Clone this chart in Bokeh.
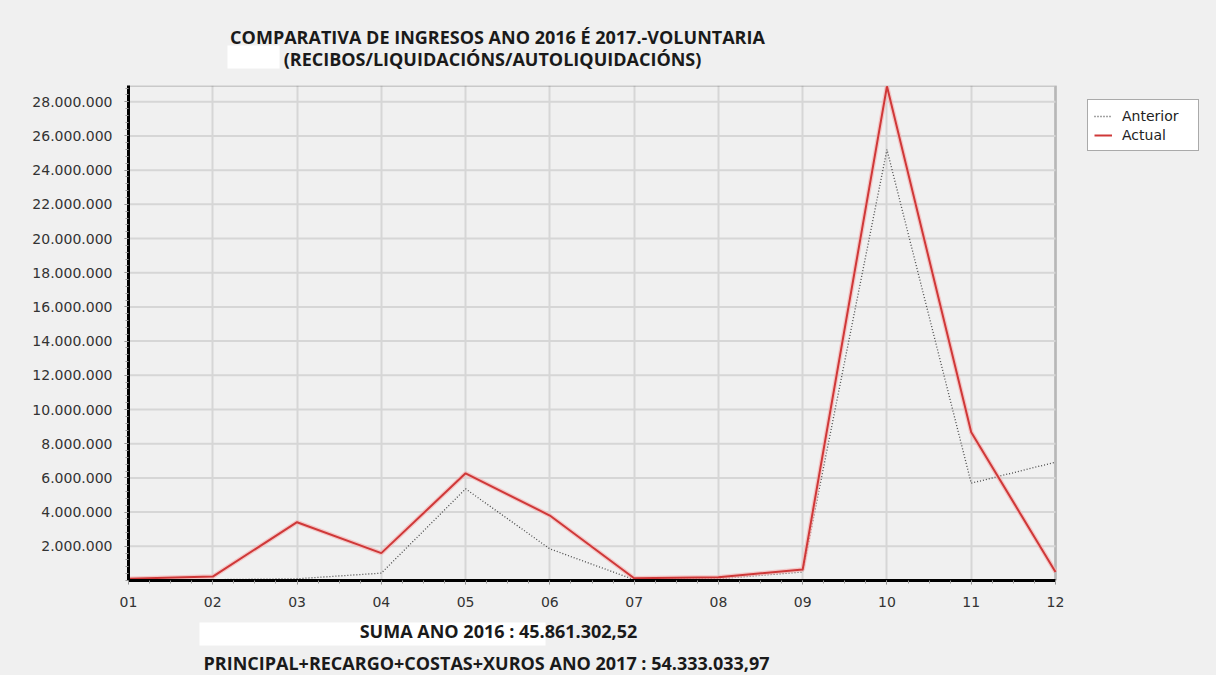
import numpy as np
from bokeh.plotting import figure
from bokeh.layouts import column
from bokeh.models import (Range1d, FixedTicker, Legend, LegendItem, Label, BoxAnnotation)
from bokeh.embed import file_html
from bokeh.resources import INLINE

# ---- data ----
months = ["01", "02", "03", "04", "05", "06", "07", "08", "09", "10", "11", "12"]
anterior = [20000, 50000, 100000, 430000, 5360000, 1850000, 50000, 100000, 500000, 25200000, 5690000, 6920000]
actual = [100000, 230000, 3410000, 1600000, 6270000, 3800000, 130000, 190000, 640000, 28900000, 8670000, 500000]
y_ticks = [2e6, 4e6, 6e6, 8e6, 10e6, 12e6, 14e6, 16e6, 18e6, 20e6, 22e6, 24e6, 26e6, 28e6]
y_tick_labels = ["2.000.000", "4.000.000", "6.000.000", "8.000.000", "10.000.000", "12.000.000",
                 "14.000.000", "16.000.000", "18.000.000", "20.000.000", "22.000.000", "24.000.000",
                 "26.000.000", "28.000.000"]
series_names = ["Anterior", "Actual"]
title_lines = ["COMPARATIVA DE INGRESOS ANO 2016 É 2017.-VOLUNTARIA",
               "(RECIBOS/LIQUIDACIÓNS/AUTOLIQUIDACIÓNS)"]
footer_lines = ["SUMA ANO 2016 : 45.861.302,52",
                "PRINCIPAL+RECARGO+COSTAS+XUROS ANO 2017 : 54.333.033,97"]

x = list(range(1, len(months) + 1))
Y_MAX = 28.95e6
BG = "#f0f0f0"
W = 1216
LEFT, RIGHT = 128, 8            # frame borders (px)
BOX_RIGHT_PX = 1055             # right edge of the plotted box (px)
HEAD_H, MAIN_H, FOOT_H = 78, 540, 57

# the frame extends past the plotted box so the legend can sit inside it
px_per_unit = (BOX_RIGHT_PX - LEFT) / (x[-1] - x[0])
x_end = x[0] + (W - RIGHT - LEFT) / px_per_unit

CLEAR = dict(background_fill_alpha=0, border_fill_alpha=0)


def band(top, height):
    """A text band whose frame lines up with the chart frame; data units = page pixels."""
    f = figure(width=W, height=height, output_backend="svg", toolbar_location=None,
               x_range=Range1d(LEFT, W - RIGHT), y_range=Range1d(top + height, top),
               min_border_left=LEFT, min_border_right=RIGHT, min_border_top=0, min_border_bottom=0,
               x_axis_location=None, y_axis_location=None, outline_line_color=None, **CLEAR)
    f.xgrid.visible = False
    f.ygrid.visible = False
    return f


def mask(f, l, r, t, b):
    f.add_layout(BoxAnnotation(left=l, right=r, top=t, bottom=b, fill_color="white",
                               fill_alpha=1, line_alpha=0))


def txt(f, s, cx, cy):
    f.add_layout(Label(x=cx, y=cy, text=s, text_font="Open Sans", text_font_style="bold",
                       text_font_size="18px", text_color="#1a1a1a",
                       text_align="center", text_baseline="middle"))


# ---- header ----
head = band(0, HEAD_H)
mask(head, 227, 279, 45, 68)
txt(head, title_lines[0], 497, 36)
txt(head, title_lines[1], 492, 58)

# ---- main chart ----
p = figure(width=W, height=MAIN_H, output_backend="svg", toolbar_location=None,
           x_range=Range1d(x[0], x_end), y_range=Range1d(0, Y_MAX),
           min_border_left=LEFT, min_border_right=RIGHT, min_border_top=7, min_border_bottom=38,
           outline_line_color=None, **CLEAR)

p.xaxis.ticker = FixedTicker(ticks=x, minor_ticks=list(np.arange(1, 12.001, 0.25)))
p.yaxis.ticker = FixedTicker(ticks=y_ticks, minor_ticks=list(np.arange(0, 29e6, 4e5)))
p.xaxis.bounds = (x[0], x[-1])
p.xgrid.ticker = FixedTicker(ticks=x)
p.xgrid.grid_line_color = "#d6d6d6"
p.xgrid.grid_line_width = 2
p.ygrid.visible = False
# horizontal grid lines, limited to the plotted box
p.segment(x0=x[0], x1=x[-1], y0=y_ticks, y1=y_ticks, line_color="#d6d6d6", line_width=2)

p.xaxis.major_label_overrides = {xi: m for xi, m in zip(x, months)}
p.yaxis.major_label_overrides = {t: l for t, l in zip(y_ticks, y_tick_labels)}

for ax in (p.xaxis[0], p.yaxis[0]):
    ax.axis_line_color = "black"
    ax.axis_line_width = 3
    ax.major_tick_line_color = "#888888"
    ax.minor_tick_line_color = "#999999"
    ax.major_tick_in = 0
    ax.major_tick_out = 4
    ax.minor_tick_in = 0
    ax.minor_tick_out = 3
    ax.major_label_text_font = "DejaVu Sans"
    ax.major_label_text_font_size = "14px"
    ax.major_label_text_color = "#333333"
p.xaxis.major_label_standoff = 12
p.yaxis.major_label_standoff = 12

# plotted-box border (top / right)
p.add_layout(BoxAnnotation(left=x[0], right=x[-1], bottom=0, top=Y_MAX, fill_alpha=0,
                           line_color="#707070", line_width=3, level="underlay"))

r_ant = p.line(x, anterior, line_color="#4a4a4a", line_width=1.3, line_dash="1 2")
p.line(x, actual, line_color="#f3b5b5", line_width=4.5, line_alpha=0.7)
r_act = p.line(x, actual, line_color="#cf3838", line_width=2)

legend = Legend(items=[LegendItem(label=series_names[0], renderers=[r_ant]),
                       LegendItem(label=series_names[1], renderers=[r_act])],
                location=(959, 429), orientation="vertical",
                border_line_color="#555555", border_line_width=1.5,
                background_fill_color="white", background_fill_alpha=1,
                label_text_font="DejaVu Sans", label_text_font_size="14px",
                label_text_color="#222222", glyph_width=18, glyph_height=16,
                label_standoff=10, padding=6, spacing=0, margin=0,
                label_height=19, label_width=70)
p.add_layout(legend, "center")

# ---- footer ----
foot = band(HEAD_H + MAIN_H, FOOT_H)
mask(foot, 199, 545, 622, 645)
txt(foot, footer_lines[0], 498, 630)
txt(foot, footer_lines[1], 486, 662)

layout = column(head, p, foot, spacing=0, styles={"background-color": BG})
open("out.html", "w").write(file_html(layout, INLINE))
